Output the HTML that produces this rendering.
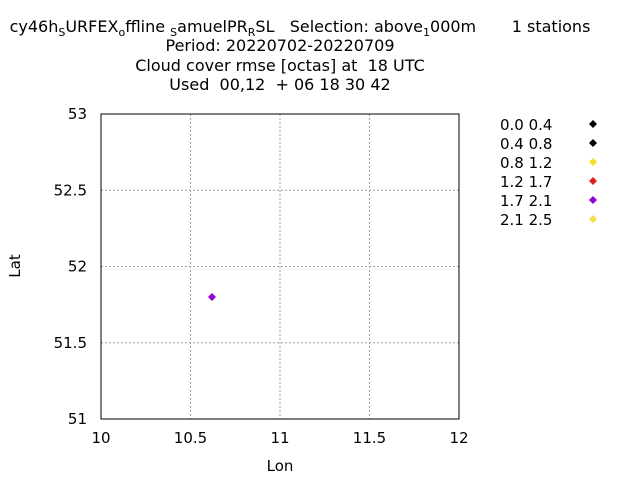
<!DOCTYPE html>
<html><head><meta charset="utf-8"><style>
body{margin:0;background:#fff}
svg text{font-family:"DejaVu Sans","Liberation Sans",sans-serif;font-size:15px;fill:#000;white-space:pre}
svg g.title text{font-size:16px}
</style></head><body>
<svg width="640" height="480" xml:space="preserve">
<g class="title">
<text x="300" y="32" text-anchor="middle">cy46h<tspan font-size="11" dy="4">S</tspan><tspan dy="-4">URFEX</tspan><tspan font-size="11" dy="4">o</tspan><tspan dy="-4">ffline </tspan><tspan font-size="11" dy="4">S</tspan><tspan dy="-4">amuelPR</tspan><tspan font-size="11" dy="4">R</tspan><tspan dy="-4">SL   Selection: above</tspan><tspan font-size="11" dy="4">1</tspan><tspan dy="-4">000m       1 stations</tspan></text>
<text x="280" y="51" text-anchor="middle">Period: 20220702-20220709</text>
<text x="280" y="71" text-anchor="middle">Cloud cover rmse [octas] at  18 UTC</text>
<text x="280" y="90" text-anchor="middle">Used  00,12  + 06 18 30 42</text>
</g>
<g id="grid"></g>
<rect x="101" y="114" width="358" height="305" fill="none" stroke="#000"/>
<g id="ticks"></g>
<text x="280" y="471" text-anchor="middle">Lon</text>
<text transform="translate(20,266) rotate(-90)" text-anchor="middle">Lat</text>
<g id="legend"></g>
<g id="points"></g>
</svg>
<script>
const xTicks=[10,10.5,11,11.5,12];
const yTicks=[51,51.5,52,52.5,53];
const legendLabels=["0.0 0.4","0.4 0.8","0.8 1.2","1.2 1.7","1.7 2.1","2.1 2.5"];
const legendColors=["#000000","#000000","#f0e020","#e02020","#9400d3","#f0e040"];
const lons=[10.62];
const lats=[51.8];
const classes=[4];
const ns="http://www.w3.org/2000/svg";
const X=v=>101+(v-10)/2*358, Y=v=>419-(v-51)/2*305;
function mk(t,a,p){const e=document.createElementNS(ns,t);for(const k in a)e.setAttribute(k,a[k]);p.appendChild(e);return e;}
const g=document.getElementById('grid'),tk=document.getElementById('ticks');
xTicks.forEach(v=>{const x=X(v);
 if(v>10&&v<12){const l=mk('line',{x1:x,x2:x,y1:114,y2:419,stroke:'#a0a0a0','stroke-dasharray':'2,2'},g);}
 const t=mk('text',{x:x,y:443,'text-anchor':'middle'},tk);t.textContent=v;
 
 });
yTicks.forEach(v=>{const y=Y(v);
 if(v>51&&v<53){const l=mk('line',{x1:101,x2:459,y1:y,y2:y,stroke:'#a0a0a0','stroke-dasharray':'2,2'},g);}
 const t=mk('text',{x:87,y:y+5,'text-anchor':'end'},tk);t.textContent=v;
 
 });
const lg=document.getElementById('legend');
function diamond(x,y,c,p){return mk('path',{d:`M${x},${y-4}L${x+4},${y}L${x},${y+4}L${x-4},${y}Z`,fill:c},p);}
legendLabels.forEach((s,i)=>{const y=124+i*19;
 const t=mk('text',{x:500,y:y+6},lg);t.textContent=s;
 
 
 const d=diamond(593,y,legendColors[i],lg);
 
 });
const pg=document.getElementById('points');
lons.forEach((v,i)=>{const d=diamond(X(v),Y(lats[i]),legendColors[classes[i]],pg);
 
 });
</script>
</body></html>
